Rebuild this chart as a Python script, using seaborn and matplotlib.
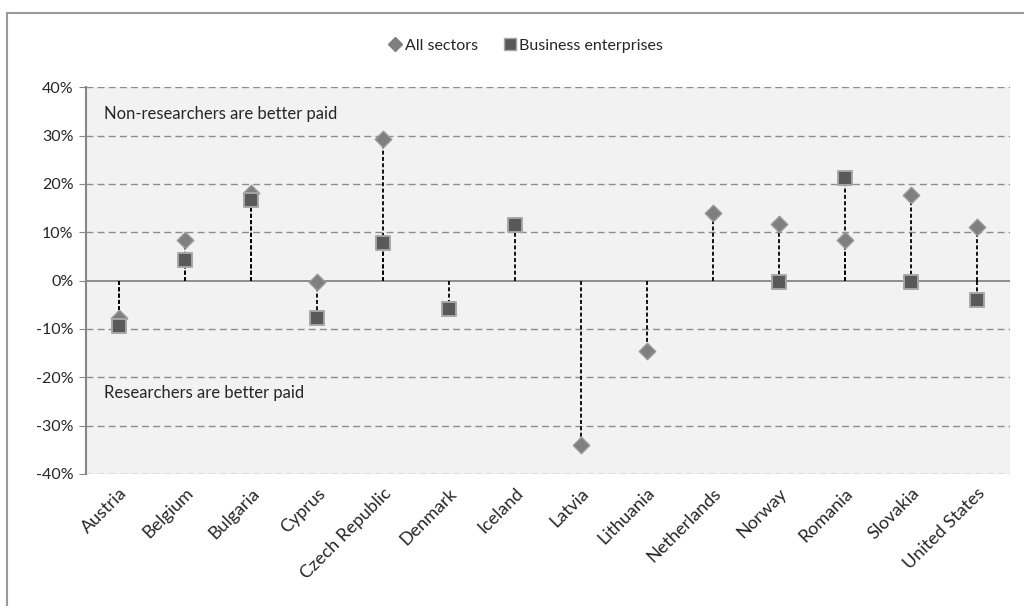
import numpy as np
import pandas as pd
import seaborn as sns
import matplotlib.pyplot as plt
import matplotlib.transforms as mtransforms
from matplotlib.lines import Line2D

countries = ['Austria', 'Belgium', 'Bulgaria', 'Cyprus', 'Czech Republic', 'Denmark',
             'Iceland', 'Latvia', 'Lithuania', 'Netherlands', 'Norway', 'Romania',
             'Slovakia', 'United States']
all_sectors = [-7.8, 8.4, 18.2, -0.3, 29.2, np.nan, np.nan, -34.0, -14.5, 14.0, 11.7, 8.3, 17.7, 11.1]
business = [-9.3, 4.2, 16.6, -7.8, 7.8, -5.8, 11.4, np.nan, np.nan, np.nan, -0.2, 21.3, -0.2, -4.1]
yticks = [-40, -30, -20, -10, 0, 10, 20, 30, 40]

df = pd.DataFrame({'country': countries * 2,
                   'value': all_sectors + business,
                   'series': ['All sectors'] * len(countries) + ['Business enterprises'] * len(countries)})
df = df.dropna()

sns.set_style('white')
plt.rcParams['font.family'] = ['Lato', 'DejaVu Sans']

fig = plt.figure(figsize=(10.24, 6.06), dpi=100)
ax = fig.add_axes([0.084, 0.218, 0.902, 0.638])
ax.set_facecolor('#f2f2f2')

# outer chart frame
fig.patches.append(plt.Rectangle((7 / 1024, -0.1), 1.2, 1 - 13 / 606 + 0.1, transform=fig.transFigure,
                                 fill=False, edgecolor='#9a9a9a', linewidth=1.5))

pos = {c: i for i, c in enumerate(countries)}
df['x'] = df['country'].map(pos)

for yv in yticks:
    if yv != 0:
        ax.axhline(yv, color='#8c8c8c', lw=1, ls=(0, (5, 3)), zorder=1)
ax.axhline(0, color='#868686', lw=1.3, zorder=2)

# drop lines from the axis to each point
ax.vlines(df['x'], 0, df['value'], colors='black', linestyles=(0, (2.2, 1.3)), lw=1.3, zorder=3)

sns.scatterplot(data=df[df['series'] == 'All sectors'], x='x', y='value', marker='D', s=70,
                color='#7f7f7f', edgecolor='#999999', linewidth=1, ax=ax, zorder=4, legend=False)
sns.scatterplot(data=df[df['series'] == 'Business enterprises'], x='x', y='value', marker='s', s=95,
                color='#595959', edgecolor='#a6a6a6', linewidth=1.4, ax=ax, zorder=5, legend=False)

ax.set_xlim(-0.5, len(countries) - 0.5)
ax.set_ylim(-40, 40)
ax.set_yticks(yticks)
ax.set_yticklabels([f'{v}%' for v in yticks], fontsize=11.5)
ax.set_xticks(range(len(countries)))
ax.set_xticklabels(countries, rotation=45, ha='right', rotation_mode='anchor', fontsize=13)
shift = mtransforms.ScaledTranslation(-5 / 100, 0, fig.dpi_scale_trans)
for lbl in ax.get_xticklabels():
    lbl.set_transform(lbl.get_transform() + shift)
ax.tick_params(axis='y', length=5, color='#868686', direction='out', left=True, pad=4)
ax.tick_params(axis='x', length=0, pad=8)
ax.set_xlabel('')
ax.set_ylabel('')
for s in ['top', 'right', 'bottom']:
    ax.spines[s].set_visible(False)
ax.spines['left'].set_color('#868686')
ax.spines['left'].set_linewidth(1.5)

ax.text(0.02, 0.93, 'Non-researchers are better paid', transform=ax.transAxes, fontsize=12, va='center')
ax.text(0.02, 0.21, 'Researchers are better paid', transform=ax.transAxes, fontsize=12, va='center')

handles = [Line2D([], [], marker='D', ls='', color='#7f7f7f', markersize=7),
           Line2D([], [], marker='s', ls='', color='#595959', markeredgecolor='#a6a6a6', markersize=8)]
fig.legend(handles, ['All sectors', 'Business enterprises'], loc='center', bbox_to_anchor=(0.513, 0.925),
           ncol=2, frameon=False, fontsize=11.5, handletextpad=0.1, columnspacing=1.5, handlelength=1)

fig.savefig('out.png', dpi=100)
